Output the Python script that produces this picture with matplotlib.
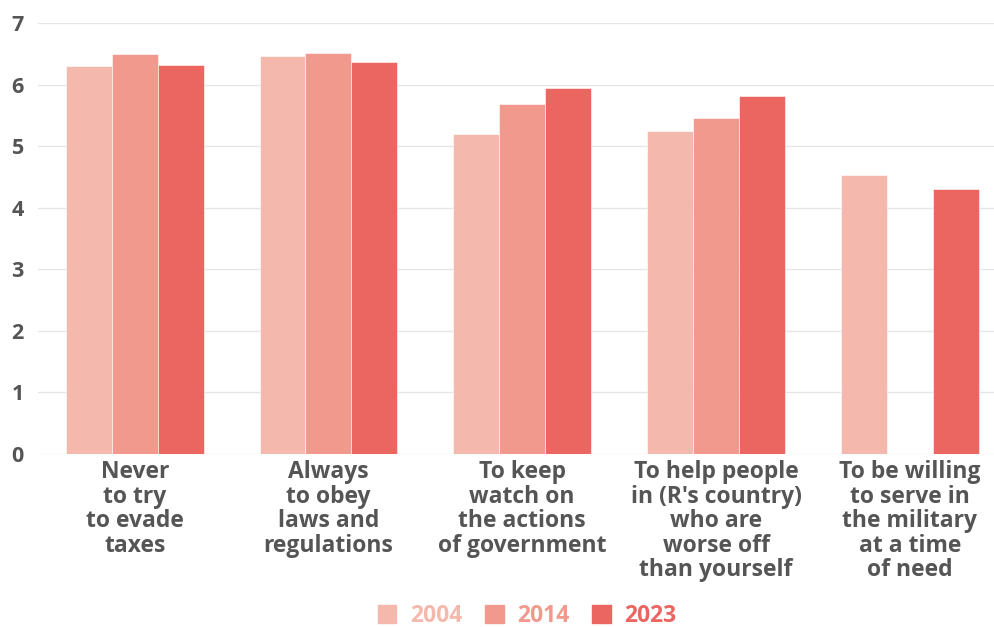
import numpy as np
import matplotlib.pyplot as plt
from matplotlib.patches import Rectangle

# Etiquetas de las categorias
categorias = ["Never\nto try\nto evade\ntaxes",
              "Always\nto obey\nlaws and\nregulations",
              "To keep\nwatch on\nthe actions\nof government",
              "To help people\nin (R's country)\nwho are\nworse off\nthan yourself",
              "To be willing\nto serve in\nthe military\nat a time\nof need"]
anios = ["2004", "2014", "2023"]
# Valores por anio (None = sin dato)
v2004 = [6.30, 6.46, 5.20, 5.25, 4.53]
v2014 = [6.50, 6.51, 5.68, 5.46, None]
v2023 = [6.31, 6.36, 5.95, 5.82, 4.30]
colores = ["#f5b8ad", "#f1998d", "#eb6561"]

plt.rcParams['font.family'] = ['Open Sans', 'DejaVu Sans']
gris = "#555555"

fig = plt.figure(figsize=(9.95, 6.27), dpi=100)
ax = fig.add_axes([0.038, 0.2767, 0.962, 0.6866])

x = np.arange(len(categorias))
ancho = 0.237
series = [v2004, v2014, v2023]
for k, (serie, c) in enumerate(zip(series, colores)):
    for i, v in enumerate(serie):
        if v is None:
            continue
        ax.bar(x[i] + (k - 1) * ancho, v, ancho, color=c,
               edgecolor="#ffffff", linewidth=0.4, zorder=3)

ax.set_xlim(-0.5, 4.44)
ax.set_ylim(0, 7)
ax.set_yticks(range(8))
ax.yaxis.grid(True, color="#e6e6e6", linewidth=1, zorder=0)
for s in ax.spines.values():
    s.set_visible(False)
ax.tick_params(axis='y', length=0, pad=10, labelsize=15.5, labelcolor=gris)
for t in ax.get_yticklabels():
    t.set_fontweight('bold')
ax.set_xticks(x)
ax.set_xticklabels(categorias, fontsize=16.5, fontweight='bold', color=gris,
                   linespacing=1.02)
ax.tick_params(axis='x', length=0, pad=5)

# Leyenda con el texto del color de cada serie
handles = [Rectangle((0, 0), 1, 1, color=c) for c in colores]
leg = fig.legend(handles, anios, loc='center', bbox_to_anchor=(0.53, 0.018),
                 ncol=3, frameon=False, handlelength=0.8, handleheight=0.8,
                 columnspacing=1.0, handletextpad=0.6, borderpad=0.2,
                 prop={'size': 16.5, 'weight': 'bold'})
for t, c in zip(leg.get_texts(), colores):
    t.set_color(c)

fig.savefig("out.png", dpi=100)
